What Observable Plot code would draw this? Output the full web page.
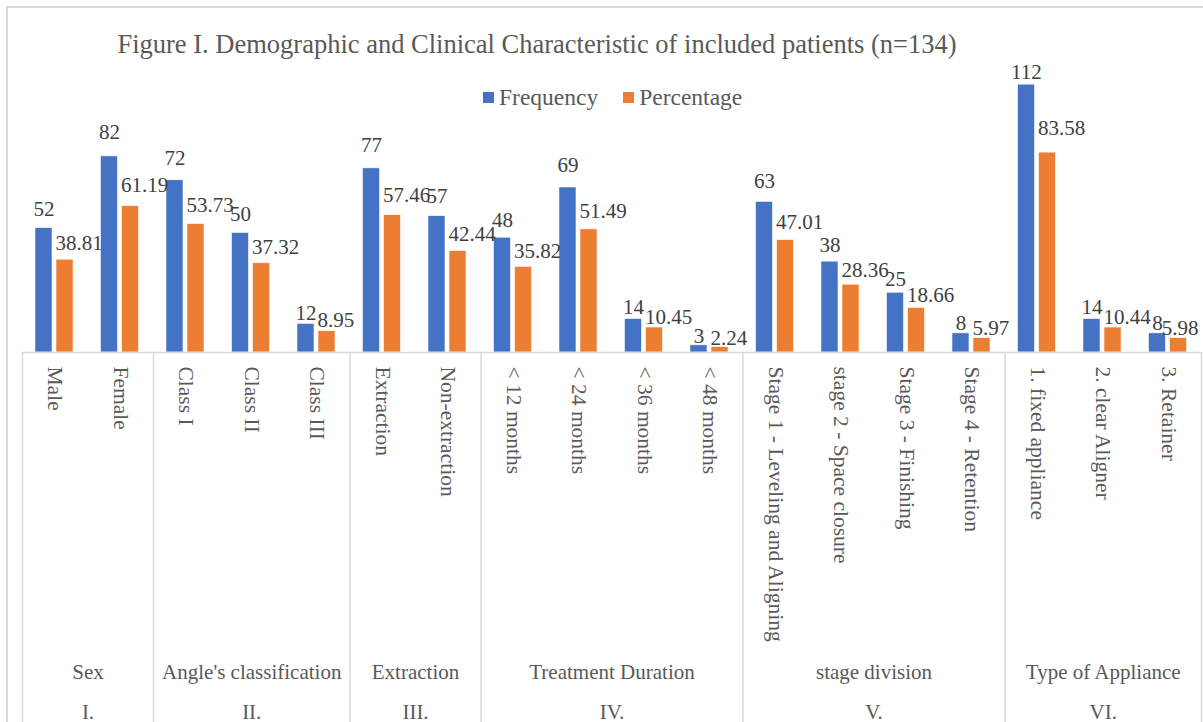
<!DOCTYPE html>
<html>
<head>
<meta charset="utf-8">
<script src="https://cdn.jsdelivr.net/npm/d3@7"></script>
<script src="https://cdn.jsdelivr.net/npm/@observablehq/plot@0.6"></script>
<style>
  html, body { margin: 0; padding: 0; background: #fff; overflow: hidden; }
  #wrap { position: relative; width: 1203px; height: 722px; font-family: "Liberation Serif", "Times New Roman", serif; color: #595959; }
  #frame { position: absolute; left: 6px; top: 6px; width: 1210px; height: 730px; border: 2px solid #d9d9d9; box-sizing: border-box; }
  #title { position: absolute; left: 0; top: 28px; width: 1074px; text-align: center; font-family: "Liberation Serif", serif; font-size: 26.5px; line-height: 32px; white-space: nowrap; }
  #legend { position: absolute; left: 483px; top: 83px; font-family: "Liberation Serif", serif; font-size: 23.5px; line-height: 28px; white-space: nowrap; display: flex; align-items: center; }
  .sw { display: inline-block; width: 11px; height: 11px; margin-right: 5px; }
  .item { display: inline-flex; align-items: center; margin-right: 25px; }
  #chart { position: absolute; left: 0; top: 0; }
</style>
</head>
<body>
<div id="wrap">
  <div id="frame"></div>
  <div id="chart"></div>
  <div id="title">Figure I. Demographic and Clinical Characteristic of included patients (n=134)</div>
  <div id="legend"></div>
</div>
<script>
// ---- data ----
const categories = ["Male", "Female", "Class I", "Class II", "Class III", "Extraction", "Non-extraction",
  "< 12 months", "< 24 months", "< 36 months", "< 48 months",
  "Stage 1 - Leveling and Aligning", "stage 2 - Space closure", "Stage 3 - Finishing", "Stage 4 - Retention",
  "1. fixed appliance", "2. clear Aligner", "3. Retainer"];
const frequency = [52, 82, 72, 50, 12, 77, 57, 48, 69, 14, 3, 63, 38, 25, 8, 112, 14, 8];
const percentage = [38.81, 61.19, 53.73, 37.32, 8.95, 57.46, 42.44, 35.82, 51.49, 10.45, 2.24, 47.01, 28.36, 18.66, 5.97, 83.58, 10.44, 5.98];
const groups = ["Sex", "Angle's classification", "Extraction", "Treatment Duration", "stage division", "Type of Appliance"];
const groupNumerals = ["I.", "II.", "III.", "IV.", "V.", "VI."];
const groupSizes = [2, 3, 2, 4, 4, 3];
const seriesNames = ["Frequency", "Percentage"];
const seriesColors = ["#4472C4", "#ED7D31"];

// ---- layout (band fractions within each category) ----
const BAR = [[0.198, 0.458], [0.519, 0.779]];
const W = 1203, H = 722, MT = 65, MB = 370, ML = 22, MR = 2;
const YMAX = 120;
const plotH = H - MT - MB;
const pxPerUnit = plotH / YMAX;
const n = categories.length;
const pxPerCat = (W - ML - MR) / n;
const yBottom = -MB / pxPerUnit;        // bottom edge of the svg in data units
const LABEL_LIFT = 1.08;                 // label placement as in the source picture
const labelTop = YMAX - 15 / pxPerUnit;  // labels are kept inside the plot area
const LABEL_FONT = 21;
const font = "'Liberation Serif', 'Times New Roman', serif";

// measure label widths so that labels stay inside the chart (as the source does)
const ctx = document.createElement("canvas").getContext("2d");
ctx.font = `${LABEL_FONT}px ${font}`;
const textW = s => ctx.measureText(s).width;

const rows = [];
categories.forEach((c, i) => {
  rows.push({i, cat: c, s: 0, v: frequency[i], label: String(frequency[i])});
  rows.push({i, cat: c, s: 1, v: percentage[i], label: String(percentage[i])});
});
const catRows = categories.map((c, i) => ({i, name: c}));
let acc = 0;
const bounds = [0];
const groupRows = groups.map((g, k) => {
  const start = acc;
  acc += groupSizes[k];
  bounds.push(acc);
  return {name: g, num: groupNumerals[k], center: (start + acc) / 2};
});
const labelY = d => Math.min(d.v * LABEL_LIFT, labelTop);
const orangeX = d => Math.min(d.i + BAR[1][0] - 1 / pxPerCat, n - (textW(d.label) + 3) / pxPerCat);

const chart = Plot.plot({
  width: W, height: H,
  marginLeft: ML, marginRight: MR, marginTop: MT, marginBottom: MB,
  x: {domain: [0, n], axis: null},
  y: {domain: [0, YMAX], axis: null},
  style: {fontFamily: font, background: "transparent", overflow: "visible"},
  marks: [
    Plot.rectY(rows, {
      x1: d => d.i + BAR[d.s][0], x2: d => d.i + BAR[d.s][1],
      y1: 0, y2: "v",
      fill: d => seriesColors[d.s], stroke: "#ffffff", strokeWidth: 0.6
    }),
    Plot.ruleY([0], {stroke: "#d9d9d9", strokeWidth: 1.5}),
    Plot.ruleX(bounds, {x: d => d, y1: 0, y2: yBottom, stroke: "#d9d9d9", strokeWidth: 1.5}),
    // data labels
    Plot.text(rows.filter(d => d.s === 0), {
      x: d => d.i + (BAR[0][0] + BAR[0][1]) / 2, y: labelY, text: "label",
      lineAnchor: "bottom", dy: -2, fontSize: LABEL_FONT, fill: "#404040"
    }),
    Plot.text(rows.filter(d => d.s === 1), {
      x: orangeX, y: labelY, text: "label",
      textAnchor: "start", lineAnchor: "bottom", dy: -2, fontSize: LABEL_FONT, fill: "#404040"
    }),
    // category labels (rotated)
    Plot.text(catRows, {
      x: d => d.i + 0.5, y: 0, text: "name", rotate: 90,
      textAnchor: "start", lineAnchor: "middle", dy: 14, fontSize: 21.5, fill: "#595959"
    }),
    // group labels
    Plot.text(groupRows, {x: "center", y: 0, text: "name", dy: 320, fontSize: 21, fill: "#595959"}),
    Plot.text(groupRows, {x: "center", y: 0, text: "num", dy: 360, fontSize: 21, fill: "#595959"})
  ]
});
document.getElementById("chart").appendChild(chart);

// legend
const legend = document.getElementById("legend");
seriesNames.forEach((s, k) => {
  const it = document.createElement("span");
  it.className = "item";
  const sw = document.createElement("span");
  sw.className = "sw";
  sw.style.background = seriesColors[k];
  it.appendChild(sw);
  it.appendChild(document.createTextNode(s));
  legend.appendChild(it);
});
</script>
</body>
</html>
